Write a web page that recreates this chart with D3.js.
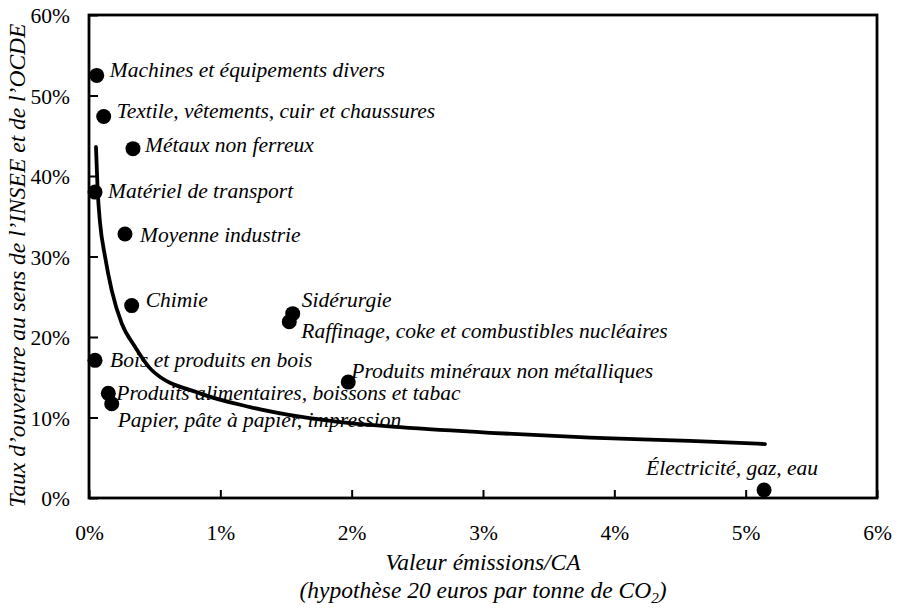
<!DOCTYPE html>
<html>
<head>
<meta charset="utf-8">
<script src="https://cdn.jsdelivr.net/npm/d3@7"></script>
<style>
  html, body { margin: 0; padding: 0; background: #fff; }
  svg { display: block; }
</style>
</head>
<body>
<svg id="chart" width="897" height="609"></svg>
<script>
// ---- Data ----
const sectors = [
  "Machines et équipements divers",
  "Textile, vêtements, cuir et chaussures",
  "Métaux non ferreux",
  "Matériel de transport",
  "Moyenne industrie",
  "Chimie",
  "Sidérurgie",
  "Raffinage, coke et combustibles nucléaires",
  "Bois et produits en bois",
  "Produits minéraux non métalliques",
  "Produits alimentaires, boissons et tabac",
  "Papier, pâte à papier, impression",
  "Électricité, gaz, eau"
];
const emissionsCA = [0.059, 0.112, 0.335, 0.046, 0.274, 0.325, 1.551, 1.525, 0.046, 1.974, 0.147, 0.173, 5.14];
const openness    = [52.5, 47.4, 43.4, 38.0, 32.8, 23.9, 22.9, 21.9, 17.1, 14.4, 13.0, 11.7, 1.0];

// trend curve, points
const trendX = [0.053, 0.066, 0.084, 0.122, 0.173, 0.249, 0.350, 0.477, 0.845, 1.226, 1.607, 1.987, 2.368, 3.053, 3.815, 4.576, 5.147];
const trendY = [43.6, 38.2, 34.2, 30.0, 25.8, 21.7, 18.8, 15.9, 13.0, 11.3, 10.1, 9.3, 8.8, 8.1, 7.5, 7.1, 6.7];

const xTicks = [0, 1, 2, 3, 4, 5, 6];
const yTicks = [0, 10, 20, 30, 40, 50, 60];

// ---- Layout (label offsets in pixels relative to each dot) ----
const labelOffsets = [
  [13, 2], [13, 2], [12, 3], [13, 6], [15, 8], [14, 1], [9, -7],
  [12, 16], [15, 7], [3, -4], [8, 7], [6, 23], [54, -15]
];
const labelAnchor = sectors.map((d, i) => i === 12 ? "end" : "start");

const FONT = "Liberation Serif";
const margin = { left: 89, right: 20, top: 15, bottom: 111 };
const W = 897, H = 609;
const svg = d3.select("#chart");

const x = d3.scaleLinear().domain([0, 6]).range([margin.left, W - margin.right]);
const y = d3.scaleLinear().domain([0, 60]).range([H - margin.bottom, margin.top]);

const fs = 21.5;

// frame
svg.append("rect")
  .attr("x", x(0)).attr("y", y(60))
  .attr("width", x(6) - x(0)).attr("height", y(0) - y(60))
  .attr("fill", "none").attr("stroke", "#000").attr("stroke-width", 2.8);

// axes (ticks inward)
const yAxis = d3.axisLeft(y).tickValues(yTicks).tickFormat(d => d + "%").tickSizeInner(-9).tickSizeOuter(0).tickPadding(19);
const gy = svg.append("g").attr("transform", `translate(${x(0)},0)`).call(yAxis)
  .attr("font-family", FONT).attr("font-size", fs);
gy.select(".domain").remove();
gy.selectAll("line").attr("stroke", "#000").attr("stroke-width", 2);
gy.selectAll("text").attr("font-family", FONT).attr("font-size", fs).attr("fill", "#000").attr("dy", "0.36em");

const xAxis = d3.axisBottom(x).tickValues(xTicks).tickFormat(d => d + "%").tickSizeInner(-8).tickSizeOuter(0).tickPadding(27);
const gx = svg.append("g").attr("transform", `translate(0,${y(0)})`).call(xAxis)
  .attr("font-family", FONT).attr("font-size", fs);
gx.select(".domain").remove();
gx.selectAll("line").attr("stroke", "#000").attr("stroke-width", 2);
gx.selectAll("text").attr("font-family", FONT).attr("font-size", fs).attr("fill", "#000");

// labels
const labels = svg.append("g");
sectors.forEach((s, i) => {
  labels.append("text")
    .attr("font-family", FONT).attr("font-style", "italic").attr("font-size", fs).attr("fill", "#000")
    .attr("x", x(emissionsCA[i]) + labelOffsets[i][0])
    .attr("y", y(openness[i]) + labelOffsets[i][1])
    .attr("text-anchor", labelAnchor[i])
    .text(s);
});

// dots
svg.append("g").selectAll("circle")
  .data(sectors.map((s, i) => ({ x: emissionsCA[i], y: openness[i] })))
  .join("circle")
  .attr("cx", d => x(d.x)).attr("cy", d => y(d.y)).attr("r", 7.5).attr("fill", "#000");

// trend curve
const pts = trendX.map((v, i) => [v, trendY[i]]);
svg.append("path")
  .attr("d", d3.line().x(d => x(d[0])).y(d => y(d[1])).curve(d3.curveMonotoneX)(pts))
  .attr("fill", "none").attr("stroke", "#000").attr("stroke-width", 3.8).attr("stroke-linecap", "round");

// axis titles
const tfs = 23.5;
const xt = svg.append("text").attr("text-anchor", "middle")
  .attr("font-family", FONT).attr("font-style", "italic").attr("font-size", tfs).attr("fill", "#000");
xt.append("tspan").attr("x", 483).attr("y", 570).text("Valeur émissions/CA");
const l2 = xt.append("tspan").attr("x", 483).attr("y", 598);
l2.append("tspan").text("(hypothèse 20 euros par tonne de CO");
l2.append("tspan").attr("font-size", 15).attr("dy", 5).text("2");
l2.append("tspan").attr("dy", -5).text(")");

svg.append("text")
  .attr("transform", `translate(25,${(y(0) + y(60)) / 2 + 9}) rotate(-90)`)
  .attr("text-anchor", "middle")
  .attr("font-family", FONT).attr("font-style", "italic").attr("font-size", tfs).attr("fill", "#000")
  .text("Taux d’ouverture au sens de l’INSEE et de l’OCDE");
</script>
</body>
</html>
